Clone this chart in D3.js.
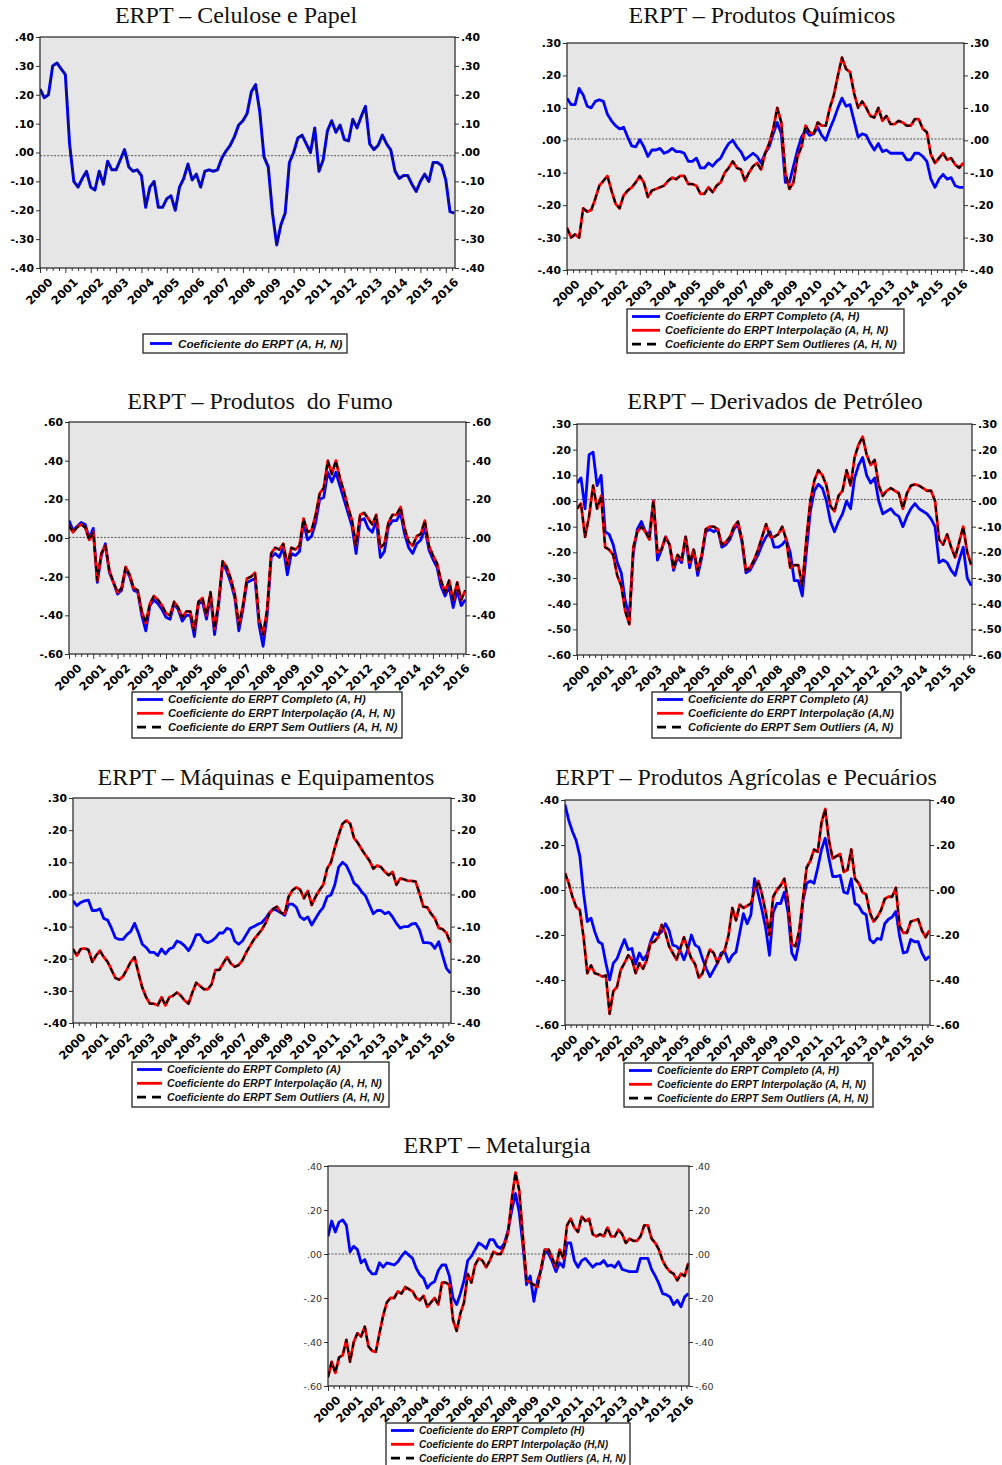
<!DOCTYPE html>
<html>
<head>
<meta charset="utf-8">
<script src="https://cdn.jsdelivr.net/npm/d3@7"></script>
<style>
  html, body { margin: 0; padding: 0; background: #ffffff; }
  svg { display: block; }
</style>
</head>
<body>
<svg id="chart" width="1002" height="1465"></svg>
<script>
// Bimonthly observations, January 2000 to May 2016 (99 points per series)
const startYear = 2000;
const obsPerYear = 6;
const yearTicks = d3.range(2000, 2017);

const celuloseCompleto = [
  0.22, 0.19, 0.20, 0.30, 0.31, 0.29,
  0.27, 0.03, -0.10, -0.12, -0.09, -0.065,
  -0.12, -0.13, -0.065, -0.11, -0.03, -0.06,
  -0.06, -0.025, 0.01, -0.05, -0.065, -0.06,
  -0.08, -0.19, -0.12, -0.10, -0.19, -0.19,
  -0.16, -0.15, -0.20, -0.12, -0.09, -0.04,
  -0.095, -0.075, -0.12, -0.065, -0.06, -0.065,
  -0.06, -0.02, 0.005, 0.025, 0.055, 0.095,
  0.11, 0.135, 0.21, 0.235, 0.14, -0.015,
  -0.05, -0.21, -0.32, -0.25, -0.21, -0.035,
  0.0, 0.05, 0.06, 0.03, 0.0, 0.085,
  -0.065, -0.025, 0.075, 0.11, 0.07, 0.095,
  0.045, 0.04, 0.115, 0.085, 0.125, 0.16,
  0.03, 0.01, 0.025, 0.06, 0.03, 0.008,
  -0.065, -0.09, -0.08, -0.08, -0.11, -0.135,
  -0.10, -0.075, -0.10, -0.035, -0.035, -0.045,
  -0.095, -0.205, -0.21
];

const quimicosCompleto = [
  0.13, 0.11, 0.11, 0.16, 0.14, 0.105,
  0.10, 0.12, 0.125, 0.12, 0.08, 0.06,
  0.045, 0.035, 0.04, 0.01, -0.017, -0.02,
  0.002, -0.02, -0.05, -0.03, -0.03, -0.025,
  -0.04, -0.035, -0.025, -0.035, -0.035, -0.04,
  -0.065, -0.065, -0.055, -0.085, -0.085, -0.07,
  -0.08, -0.065, -0.055, -0.03, -0.01, 0.0,
  -0.02, -0.035, -0.06, -0.05, -0.04, -0.05,
  -0.07, -0.04, -0.02, 0.02, 0.055, 0.02,
  -0.13, -0.13, -0.08, -0.03, 0.01, 0.03,
  0.015, 0.02, 0.04, 0.015, 0.0, 0.035,
  0.065, 0.10, 0.13, 0.105, 0.11, 0.06,
  0.01, 0.02, 0.015, -0.01, -0.03, -0.01,
  -0.035, -0.03, -0.04, -0.04, -0.04, -0.04,
  -0.06, -0.06, -0.04, -0.04, -0.05, -0.065,
  -0.12, -0.145, -0.12, -0.105, -0.12, -0.115,
  -0.14, -0.145, -0.145
];
const quimicosInterp = [
  -0.27, -0.30, -0.29, -0.30, -0.21, -0.22,
  -0.215, -0.18, -0.14, -0.125, -0.11, -0.155,
  -0.195, -0.21, -0.17, -0.155, -0.145, -0.13,
  -0.11, -0.13, -0.175, -0.155, -0.15, -0.145,
  -0.14, -0.125, -0.115, -0.12, -0.11, -0.11,
  -0.135, -0.135, -0.14, -0.165, -0.165, -0.145,
  -0.16, -0.14, -0.13, -0.10, -0.085, -0.065,
  -0.085, -0.09, -0.125, -0.10, -0.08, -0.07,
  -0.09, -0.04, -0.01, 0.035, 0.10, 0.055,
  -0.10, -0.15, -0.13, -0.05, -0.02, 0.045,
  0.025, 0.02, 0.055, 0.045, 0.045, 0.10,
  0.14, 0.20, 0.255, 0.22, 0.21, 0.145,
  0.10, 0.12, 0.10, 0.075, 0.07, 0.10,
  0.06, 0.075, 0.05, 0.05, 0.06, 0.055,
  0.045, 0.045, 0.065, 0.065, 0.035, 0.025,
  -0.045, -0.07, -0.055, -0.04, -0.06, -0.055,
  -0.075, -0.085, -0.07
];

const fumoCompleto = [
  0.09, 0.04, 0.06, 0.08, 0.07, 0.0,
  0.05, -0.23, -0.09, -0.03, -0.18, -0.23,
  -0.29, -0.27, -0.16, -0.20, -0.27, -0.28,
  -0.40, -0.48, -0.35, -0.32, -0.34, -0.37,
  -0.41, -0.42, -0.34, -0.37, -0.43, -0.40,
  -0.40, -0.51, -0.34, -0.33, -0.42, -0.30,
  -0.50, -0.35, -0.13, -0.17, -0.23, -0.31,
  -0.48, -0.37, -0.23, -0.22, -0.21, -0.45,
  -0.56, -0.40, -0.10, -0.08, -0.10, -0.05,
  -0.19, -0.08, -0.09, -0.07, 0.08, -0.01,
  0.01, 0.08, 0.20, 0.21, 0.34, 0.29,
  0.34, 0.27, 0.20, 0.13, 0.06, -0.08,
  0.09, 0.10, 0.05, 0.03, 0.09, -0.10,
  -0.07, 0.06, 0.09, 0.09, 0.13, 0.02,
  -0.05, -0.08, -0.03, -0.01, 0.05, -0.06,
  -0.11, -0.15, -0.25, -0.30, -0.25, -0.36,
  -0.27, -0.35, -0.32
];
const fumoInterp = [
  0.065, 0.03, 0.055, 0.07, 0.055, -0.01,
  0.03, -0.22, -0.08, -0.04, -0.17, -0.23,
  -0.28, -0.26, -0.15, -0.19, -0.26, -0.27,
  -0.38, -0.44, -0.34, -0.30, -0.32, -0.35,
  -0.39, -0.40, -0.33, -0.36, -0.41, -0.38,
  -0.38, -0.48, -0.33, -0.31, -0.40, -0.28,
  -0.47, -0.33, -0.12, -0.15, -0.21, -0.29,
  -0.45, -0.35, -0.21, -0.20, -0.18, -0.42,
  -0.50, -0.37, -0.08, -0.05, -0.06, -0.03,
  -0.14, -0.05, -0.06, -0.04, 0.10, 0.03,
  0.04, 0.12, 0.23, 0.26, 0.40, 0.33,
  0.40, 0.31, 0.24, 0.16, 0.09, -0.04,
  0.12, 0.13, 0.10, 0.07, 0.12, -0.05,
  -0.03, 0.08, 0.12, 0.12, 0.16, 0.05,
  -0.02, -0.04, 0.01, 0.02, 0.09, -0.04,
  -0.09, -0.13, -0.22, -0.28, -0.22, -0.32,
  -0.23, -0.32, -0.27
];

const petroleoCompleto = [
  0.07, 0.09, -0.03, 0.18, 0.19, 0.06,
  0.10, -0.12, -0.13, -0.17, -0.24, -0.28,
  -0.39, -0.45, -0.20, -0.11, -0.08, -0.12,
  -0.13, 0.0, -0.23, -0.19, -0.14, -0.17,
  -0.27, -0.22, -0.24, -0.14, -0.26, -0.19,
  -0.29, -0.22, -0.12, -0.11, -0.12, -0.11,
  -0.18, -0.17, -0.15, -0.11, -0.09, -0.16,
  -0.28, -0.27, -0.24, -0.21, -0.17, -0.14,
  -0.12, -0.18, -0.18, -0.17, -0.15, -0.20,
  -0.31, -0.31, -0.37, -0.20, -0.04, 0.04,
  0.065, 0.05, 0.0, -0.08, -0.12, -0.08,
  -0.05, 0.0, -0.03, 0.09, 0.14, 0.17,
  0.10, 0.07, 0.09, 0.0, -0.05, -0.04,
  -0.03, -0.05, -0.06, -0.10, -0.06, -0.03,
  -0.01, -0.03, -0.04, -0.05, -0.07, -0.10,
  -0.24, -0.23, -0.24, -0.27, -0.29, -0.23,
  -0.18, -0.30, -0.33
];
const petroleoInterp = [
  -0.03, -0.01, -0.14, -0.06, 0.06, -0.03,
  0.02, -0.18, -0.19, -0.21, -0.29, -0.33,
  -0.43, -0.48, -0.18, -0.12, -0.10, -0.12,
  -0.15, 0.0, -0.20, -0.19, -0.14, -0.17,
  -0.26, -0.21, -0.23, -0.14, -0.24, -0.19,
  -0.27, -0.21, -0.11, -0.10, -0.10, -0.11,
  -0.17, -0.16, -0.14, -0.10, -0.08, -0.15,
  -0.27, -0.26, -0.23, -0.19, -0.14, -0.09,
  -0.14, -0.14, -0.13, -0.10, -0.15, -0.26,
  -0.25, -0.25, -0.33, -0.15, 0.0, 0.08,
  0.12, 0.10, 0.06, -0.02, -0.04, 0.02,
  0.04, 0.12, 0.06, 0.17, 0.22, 0.25,
  0.18, 0.14, 0.16, 0.06, 0.02, 0.04,
  0.05, 0.04, 0.03, -0.03, 0.03, 0.06,
  0.065, 0.06, 0.05, 0.04, 0.04, 0.0,
  -0.15, -0.17, -0.13, -0.18, -0.22, -0.16,
  -0.10, -0.20, -0.25
];

const maquinasCompleto = [
  -0.02, -0.035, -0.025, -0.02, -0.018, -0.05,
  -0.05, -0.045, -0.075, -0.08, -0.105, -0.135,
  -0.14, -0.14, -0.125, -0.115, -0.09, -0.12,
  -0.155, -0.165, -0.18, -0.18, -0.19, -0.17,
  -0.185, -0.17, -0.165, -0.145, -0.15, -0.16,
  -0.175, -0.155, -0.125, -0.125, -0.145, -0.15,
  -0.145, -0.135, -0.12, -0.12, -0.105, -0.11,
  -0.145, -0.155, -0.145, -0.125, -0.105, -0.10,
  -0.093, -0.088, -0.075, -0.057, -0.045, -0.05,
  -0.057, -0.065, -0.03, -0.03, -0.04, -0.07,
  -0.078, -0.07, -0.095, -0.075, -0.055, -0.04,
  -0.007, -0.002, 0.03, 0.085, 0.10, 0.09,
  0.065, 0.035, 0.025, 0.008, -0.005, -0.033,
  -0.06, -0.05, -0.05, -0.06, -0.055, -0.07,
  -0.09, -0.105, -0.10, -0.10, -0.092, -0.09,
  -0.11, -0.15, -0.15, -0.152, -0.168, -0.147,
  -0.19, -0.23, -0.245
];
const maquinasInterp = [
  -0.17, -0.19, -0.17, -0.168, -0.172, -0.21,
  -0.19, -0.175, -0.195, -0.21, -0.235, -0.26,
  -0.265, -0.255, -0.233, -0.21, -0.195, -0.245,
  -0.29, -0.32, -0.34, -0.34, -0.345, -0.32,
  -0.345, -0.32, -0.315, -0.305, -0.315, -0.33,
  -0.34, -0.305, -0.275, -0.285, -0.295, -0.295,
  -0.28, -0.235, -0.235, -0.215, -0.195, -0.215,
  -0.225, -0.22, -0.205, -0.18, -0.16, -0.14,
  -0.125, -0.11, -0.09, -0.06, -0.045, -0.038,
  -0.057, -0.06, -0.007, 0.013, 0.022, 0.015,
  -0.012, 0.011, -0.033, -0.007, 0.013, 0.03,
  0.08, 0.10, 0.145, 0.185, 0.22, 0.23,
  0.22, 0.175, 0.16, 0.14, 0.122, 0.105,
  0.08, 0.09, 0.085, 0.07, 0.06, 0.07,
  0.03, 0.05, 0.047, 0.042, 0.042, 0.04,
  0.003, -0.038, -0.04, -0.06, -0.075, -0.105,
  -0.108, -0.12, -0.15
];

const agricolasCompleto = [
  0.38, 0.31, 0.26, 0.22, 0.15, -0.015,
  -0.14, -0.125, -0.185, -0.23, -0.24, -0.325,
  -0.40, -0.325, -0.305, -0.26, -0.22, -0.265,
  -0.26, -0.33, -0.28, -0.31, -0.29, -0.23,
  -0.19, -0.20, -0.185, -0.15, -0.18, -0.245,
  -0.25, -0.27, -0.31, -0.265, -0.20, -0.245,
  -0.255, -0.305, -0.35, -0.385, -0.355, -0.325,
  -0.28, -0.275, -0.32, -0.29, -0.275, -0.19,
  -0.105, -0.15, -0.11, 0.05, -0.02, -0.09,
  -0.17, -0.29, -0.10, -0.06, -0.06, -0.01,
  -0.10, -0.28, -0.31, -0.23, -0.05, 0.03,
  0.04, 0.03, 0.10, 0.18, 0.23, 0.14,
  0.06, 0.06, 0.065, -0.01, -0.015, 0.05,
  -0.06, -0.07, -0.10, -0.11, -0.22, -0.235,
  -0.215, -0.22, -0.15, -0.13, -0.12, -0.095,
  -0.205, -0.28, -0.275, -0.22, -0.23, -0.23,
  -0.28, -0.31, -0.295
];
const agricolasInterp = [
  0.075, 0.03, -0.03, -0.075, -0.09, -0.21,
  -0.37, -0.335, -0.37, -0.375, -0.385, -0.38,
  -0.55, -0.45, -0.43, -0.355, -0.325, -0.29,
  -0.31, -0.37, -0.325, -0.35, -0.31, -0.235,
  -0.23, -0.21, -0.155, -0.19, -0.25, -0.28,
  -0.31, -0.26, -0.21, -0.26, -0.305, -0.33,
  -0.39, -0.37, -0.31, -0.265, -0.28, -0.325,
  -0.29, -0.265, -0.20, -0.08, -0.135, -0.065,
  -0.08, -0.07, -0.06, 0.0, 0.04, -0.02,
  -0.10, -0.20, -0.03, 0.0, 0.02, 0.05,
  -0.05, -0.24, -0.25, -0.18, -0.04, 0.10,
  0.13, 0.18, 0.17, 0.30, 0.36, 0.22,
  0.14, 0.15, 0.16, 0.08, 0.09, 0.18,
  0.05, 0.03, -0.01, -0.02, -0.10, -0.14,
  -0.12, -0.09, -0.04, -0.03, -0.03, 0.01,
  -0.16, -0.19, -0.19, -0.14, -0.135, -0.13,
  -0.18, -0.21, -0.18
];

const metalurgiaCompleto = [
  0.08, 0.15, 0.10, 0.145, 0.155, 0.13,
  0.01, 0.035, 0.02, -0.04, -0.025, -0.07,
  -0.09, -0.09, -0.04, -0.06, -0.04, -0.045,
  -0.05, -0.035, -0.01, 0.01, -0.005, -0.02,
  -0.065, -0.095, -0.11, -0.155, -0.135, -0.125,
  -0.075, -0.05, -0.05, -0.10, -0.20, -0.23,
  -0.18, -0.12, -0.03, -0.01, 0.02, 0.05,
  0.04, 0.025, 0.065, 0.065, 0.035, 0.025,
  0.05, 0.11, 0.20, 0.275, 0.19, 0.04,
  -0.14, -0.10, -0.215, -0.12, -0.07, 0.02,
  0.0, -0.035, -0.08, -0.04, -0.06, 0.05,
  0.05, -0.03, -0.06, -0.03, -0.02, -0.04,
  -0.06, -0.045, -0.045, -0.03, -0.055, -0.05,
  -0.06, -0.035, -0.07, -0.075, -0.08, -0.08,
  -0.08, -0.02, -0.02, -0.02, -0.07, -0.10,
  -0.135, -0.18, -0.185, -0.195, -0.23, -0.21,
  -0.24, -0.195, -0.18
];
const metalurgiaInterp = [
  -0.56, -0.49, -0.54, -0.47, -0.46, -0.39,
  -0.49, -0.40, -0.36, -0.375, -0.33, -0.42,
  -0.44, -0.445, -0.36, -0.28, -0.22, -0.20,
  -0.20, -0.17, -0.18, -0.15, -0.16, -0.17,
  -0.20, -0.21, -0.19, -0.24, -0.22, -0.20,
  -0.23, -0.13, -0.13, -0.14, -0.30, -0.35,
  -0.27, -0.22, -0.09, -0.13, -0.05, -0.02,
  -0.03, -0.06, -0.03, 0.01, 0.0, 0.0,
  0.04, 0.10, 0.25, 0.37, 0.29, 0.08,
  -0.12, -0.13, -0.14, -0.15, -0.06, 0.02,
  0.02, -0.02, -0.06, 0.02, -0.02, 0.13,
  0.16, 0.12, 0.10, 0.17, 0.15, 0.16,
  0.09, 0.08, 0.09, 0.08, 0.12, 0.08,
  0.08, 0.11, 0.09, 0.05, 0.07, 0.06,
  0.06, 0.08, 0.13, 0.13, 0.07, 0.05,
  0.02, -0.03, -0.06, -0.08, -0.09, -0.12,
  -0.09, -0.10, -0.04
];

// Level of the dotted reference line in each panel
const referenceLevels = [-0.011, 0.004, 0.003, 0.006, 0.004, 0.01, 0.0];

const panelTitles = [
  "ERPT – Celulose e Papel",
  "ERPT – Produtos Químicos",
  "ERPT – Produtos  do Fumo",
  "ERPT – Derivados de Petróleo",
  "ERPT – Máquinas e Equipamentos",
  "ERPT – Produtos Agrícolas e Pecuários",
  "ERPT – Metalurgia"
];

const legendCelulose = ["Coeficiente do ERPT (A, H, N)"];
const legendQuimicos = ["Coeficiente do ERPT Completo (A, H)", "Coeficiente do ERPT Interpolação (A, H, N)", "Coeficiente do ERPT Sem Outlieres (A, H, N)"];
const legendFumo = ["Coeficiente do ERPT Completo (A, H)", "Coeficiente do ERPT Interpolação (A, H, N)", "Coeficiente do ERPT Sem Outliers (A, H, N)"];
const legendPetroleo = ["Coeficiente do ERPT Completo (A)", "Coeficiente do ERPT Interpolação (A,N)", "Coficiente do ERPT Sem Outliers (A, N)"];
const legendMaquinas = ["Coeficiente do ERPT Completo (A)", "Coeficiente do ERPT Interpolação (A, H, N)", "Coeficiente do ERPT Sem Outliers (A, H, N)"];
const legendAgricolas = ["Coeficiente do ERPT Completo (A, H)", "Coeficiente do ERPT Interpolação (A, H, N)", "Coeficiente do ERPT Sem Outliers (A, H, N)"];
const legendMetalurgia = ["Coeficiente do ERPT Completo (H)", "Coeficiente do ERPT Interpolação (H,N)", "Coeficiente do ERPT Sem Outliers (A, H, N)"];

// Panel geometry, legend styling and series wiring
const panels = [
  { title: panelTitles[0], titleX: 236, titleY: 23, box: [40, 37, 455, 268], yDomain: [-0.4, 0.4], yStep: 0.1,
    blue: celuloseCompleto, red: null, legend: legendCelulose, legendBox: [143, 334, 347, 353],
    legendFont: 11.7, textOffset: 35, single: true },
  { title: panelTitles[1], titleX: 762, titleY: 23, box: [567, 43, 964, 270], yDomain: [-0.4, 0.3], yStep: 0.1,
    blue: quimicosCompleto, red: quimicosInterp, legend: legendQuimicos, legendBox: [627, 309, 904, 353],
    legendFont: 11, textOffset: 38 },
  { title: panelTitles[2], titleX: 260, titleY: 409, box: [69, 422, 466, 654], yDomain: [-0.6, 0.6], yStep: 0.2,
    blue: fumoCompleto, red: fumoInterp, legend: legendFumo, legendBox: [132, 692, 402, 738],
    legendFont: 11.2, textOffset: 36 },
  { title: panelTitles[3], titleX: 775, titleY: 409, box: [577, 424, 972, 655], yDomain: [-0.6, 0.3], yStep: 0.1,
    blue: petroleoCompleto, red: petroleoInterp, legend: legendPetroleo, legendBox: [652, 692, 901, 738],
    legendFont: 11, textOffset: 36 },
  { title: panelTitles[4], titleX: 266, titleY: 785, box: [73, 798, 451, 1023], yDomain: [-0.4, 0.3], yStep: 0.1,
    blue: maquinasCompleto, red: maquinasInterp, legend: legendMaquinas, legendBox: [132, 1062, 389, 1107],
    legendFont: 10.6, textOffset: 35 },
  { title: panelTitles[5], titleX: 746, titleY: 785, box: [565, 800, 930, 1025], yDomain: [-0.6, 0.4], yStep: 0.2,
    blue: agricolasCompleto, red: agricolasInterp, legend: legendAgricolas, legendBox: [624, 1063, 873, 1107],
    legendFont: 10.3, textOffset: 33 },
  { title: panelTitles[6], titleX: 497, titleY: 1153, box: [328, 1166, 689, 1386], yDomain: [-0.6, 0.4], yStep: 0.2,
    blue: metalurgiaCompleto, red: metalurgiaInterp, legend: legendMetalurgia, legendBox: [386, 1423, 630, 1470],
    legendFont: 10.1, textOffset: 33, light: true }
];

const svg = d3.select("#chart");
// ".40", "-.40" style labels with a plain hyphen
const tickFmt = v => {
  const s = d3.format(".2f")(Math.abs(v) < 1e-9 ? 0 : v).replace("\u2212", "-");
  return s.replace(/^(-?)0\./, "$1.");
};
const sansFont = "'Liberation Sans', Arial, sans-serif";
const wideFont = "'DejaVu Sans', Verdana, sans-serif";

panels.forEach((p, idx) => {
  const [x0, y0, x1, y1] = p.box;
  const n = p.blue.length;
  const times = d3.range(n).map(i => startYear + i / obsPerYear);
  const x = d3.scaleLinear().domain([startYear, times[n - 1] + 0.03]).range([x0, x1]);
  const y = d3.scaleLinear().domain(p.yDomain).range([y1, y0]);
  const g = svg.append("g");

  // title
  g.append("text")
    .attr("x", p.titleX).attr("y", p.titleY)
    .attr("text-anchor", "middle")
    .style("white-space", "pre")
    .attr("font-family", "'Liberation Serif', 'Times New Roman', serif")
    .attr("font-size", 24)
    .attr("fill", "#111")
    .text(p.title);

  // plot background
  g.append("rect").attr("x", x0).attr("y", y0).attr("width", x1 - x0).attr("height", y1 - y0)
    .attr("fill", "#e6e6e6");

  const clipId = "clip" + idx;
  g.append("clipPath").attr("id", clipId)
    .append("rect").attr("x", x0).attr("y", y0).attr("width", x1 - x0).attr("height", y1 - y0);

  // dotted reference line
  g.append("line")
    .attr("x1", x0).attr("x2", x1)
    .attr("y1", y(referenceLevels[idx])).attr("y2", y(referenceLevels[idx]))
    .attr("stroke", "#555").attr("stroke-width", 1).attr("stroke-dasharray", "2,1.5");

  const yTicks = d3.range(p.yDomain[0], p.yDomain[1] + 1e-6, p.yStep).map(v => Math.round(v * 100) / 100);
  const labelWeight = p.light ? "normal" : "bold";
  const labelSize = p.light ? 9.5 : 10.8;
  const labelColor = p.light ? "#333" : "#000";

  const leftAxis = g.append("g").attr("transform", `translate(${x0},0)`)
    .call(d3.axisLeft(y).tickValues(yTicks).tickSize(4).tickPadding(2).tickFormat(tickFmt));
  const rightAxis = g.append("g").attr("transform", `translate(${x1},0)`)
    .call(d3.axisRight(y).tickValues(yTicks).tickSize(4).tickPadding(2).tickFormat(tickFmt));
  [leftAxis, rightAxis].forEach(a => {
    a.select(".domain").remove();
    a.selectAll("line").attr("stroke", "#333");
    a.selectAll("text").attr("font-family", wideFont).attr("font-weight", labelWeight)
      .attr("font-size", labelSize).attr("fill", labelColor);
  });

  // bottom axis: yearly major ticks and quarterly minor ticks
  const minorTicks = d3.range(startYear, times[n - 1] + 0.03, 0.25).filter(t => Math.abs(t - Math.round(t)) > 1e-6);
  const minorAxis = g.append("g").attr("transform", `translate(0,${y1})`)
    .call(d3.axisBottom(x).tickValues(minorTicks).tickSize(3).tickFormat(""));
  minorAxis.select(".domain").remove();
  minorAxis.selectAll("line").attr("stroke", "#333");
  const majorAxis = g.append("g").attr("transform", `translate(0,${y1})`)
    .call(d3.axisBottom(x).tickValues(yearTicks).tickSize(5).tickFormat(d3.format("d")));
  majorAxis.select(".domain").remove();
  majorAxis.selectAll("line").attr("stroke", "#333");
  majorAxis.selectAll("text")
    .attr("y", 0).attr("dy", "0.35em")
    .attr("text-anchor", "end")
    .attr("transform", "translate(10,12) rotate(-45)")
    .attr("font-family", wideFont).attr("font-weight", "bold").attr("font-size", 11.5).attr("fill", "#000");

  // series lines
  const line = d3.line().x((d, i) => x(times[i])).y(d => y(d));
  const lines = g.append("g").attr("clip-path", `url(#${clipId})`);
  lines.append("path").datum(p.blue).attr("d", line)
    .attr("fill", "none").attr("stroke", "#0000ff").attr("stroke-width", p.single ? 3 : 2.8)
    .attr("stroke-linejoin", "round");
  if (p.single) {
    lines.append("path").datum(p.blue).attr("d", line)
      .attr("fill", "none").attr("stroke", "#10106a").attr("stroke-width", 1.1)
      .attr("stroke-linejoin", "round");
  }
  if (p.red) {
    lines.append("path").datum(p.red).attr("d", line)
      .attr("fill", "none").attr("stroke", "#ff0000").attr("stroke-width", 2.8)
      .attr("stroke-linejoin", "round");
    lines.append("path").datum(p.red).attr("d", line)
      .attr("fill", "none").attr("stroke", "#000").attr("stroke-width", 2)
      .attr("stroke-dasharray", "6,4").attr("stroke-linejoin", "round");
  }

  // frame
  g.append("rect").attr("x", x0).attr("y", y0).attr("width", x1 - x0).attr("height", y1 - y0)
    .attr("fill", "none").attr("stroke", "#222").attr("stroke-width", 1.2);

  // legend
  const [lx0, ly0, lx1, ly1] = p.legendBox;
  const lg = g.append("g");
  lg.append("rect").attr("x", lx0).attr("y", ly0).attr("width", lx1 - lx0).attr("height", ly1 - ly0)
    .attr("fill", "#fff").attr("stroke", "#333").attr("stroke-width", 1.4);
  const styles = [
    { stroke: "#0000ff", dash: null },
    { stroke: "#ff0000", dash: null },
    { stroke: "#000", dash: "9,6" }
  ];
  p.legend.forEach((label, k) => {
    const ry = p.single ? (ly0 + ly1) / 2 : ly0 + 7.5 + k * 13.8;
    const lx = p.single ? lx0 + 7 : lx0 + 5;
    const len = p.single ? 22 : p.textOffset - 10;
    const st = styles[k];
    lg.append("line").attr("x1", lx).attr("x2", lx + len).attr("y1", ry).attr("y2", ry)
      .attr("stroke", st.stroke).attr("stroke-width", 2.8)
      .attr("stroke-dasharray", st.dash);
    lg.append("text").attr("x", lx0 + p.textOffset).attr("y", ry).attr("dy", "0.35em")
      .attr("font-family", sansFont).attr("font-weight", "bold").attr("font-style", "italic")
      .attr("font-size", p.legendFont).attr("fill", "#111")
      .text(label);
  });
});
</script>
</body>
</html>
